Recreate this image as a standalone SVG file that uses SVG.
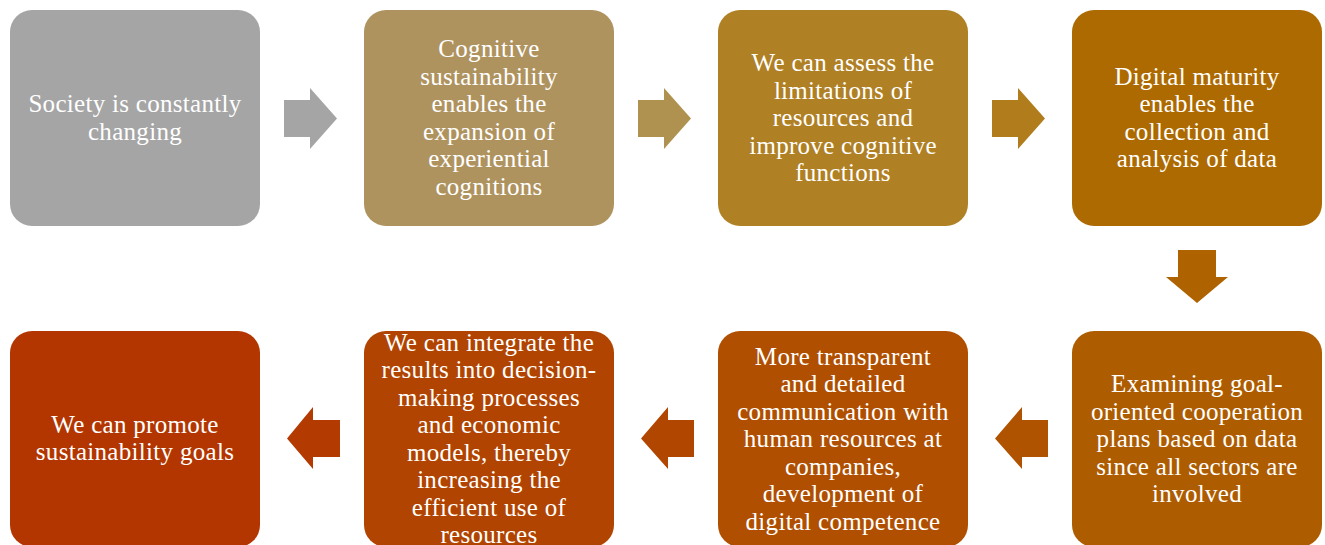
<svg xmlns="http://www.w3.org/2000/svg" width="1325" height="545" viewBox="0 0 1325 545">
<style>
.box{stroke:none}
.t{font-family:"Liberation Serif","Times New Roman",serif;font-size:25px;letter-spacing:0.3px;fill:#ffffff;text-anchor:middle}
</style>
<rect width="1325" height="545" fill="#ffffff"/>
<g id="connectors">
<polygon points="284,100 310,100 310,88 337,118.5 310,149 310,137 284,137" fill="#a5a5a5"/>
<polygon points="638,100 664,100 664,88 691,118.5 664,149 664,137 638,137" fill="#af924f"/>
<polygon points="992,100 1018,100 1018,88 1045,118.5 1018,149 1018,137 992,137" fill="#b07c1c"/>
<polygon points="1178,250 1216,250 1216,277 1228,277 1197,303 1166,277 1178,277" fill="#ae6300"/>
<polygon points="1048,420 1022,420 1022,407 995,438.5 1022,469 1022,457 1048,457" fill="#b05300"/>
<polygon points="694,420 668,420 668,407 641,438.5 668,469 668,457 694,457" fill="#b14600"/>
<polygon points="340,420 313,420 313,407 287,438.5 313,469 313,457 340,457" fill="#b33a00"/>
</g>
<g id="n1">
<rect class="box" x="10" y="10" width="250" height="216" rx="22" fill="#a5a5a5"/>
<text class="t" x="135" y="112">Society is constantly</text>
<text class="t" x="135" y="139.5">changing</text>
</g>
<g id="n2">
<rect class="box" x="364" y="10" width="250" height="216" rx="22" fill="#af935f"/>
<text class="t" x="489" y="57.25">Cognitive</text>
<text class="t" x="489" y="84.75">sustainability</text>
<text class="t" x="489" y="112.25">enables the</text>
<text class="t" x="489" y="139.75">expansion of</text>
<text class="t" x="489" y="167.25">experiential</text>
<text class="t" x="489" y="194.75">cognitions</text>
</g>
<g id="n3">
<rect class="box" x="718" y="10" width="250" height="216" rx="22" fill="#b08025"/>
<text class="t" x="843" y="71">We can assess the</text>
<text class="t" x="843" y="98.5">limitations of</text>
<text class="t" x="843" y="126">resources and</text>
<text class="t" x="843" y="153.5">improve cognitive</text>
<text class="t" x="843" y="181">functions</text>
</g>
<g id="n4">
<rect class="box" x="1072" y="10" width="250" height="216" rx="22" fill="#ad6a00"/>
<text class="t" x="1197" y="84.75">Digital maturity</text>
<text class="t" x="1197" y="112.25">enables the</text>
<text class="t" x="1197" y="139.75">collection and</text>
<text class="t" x="1197" y="167.25">analysis of data</text>
</g>
<g id="n5">
<rect class="box" x="1072" y="331" width="250" height="216" rx="22" fill="#ae5c00"/>
<text class="t" x="1197" y="392">Examining goal-</text>
<text class="t" x="1197" y="419.5">oriented cooperation</text>
<text class="t" x="1197" y="447">plans based on data</text>
<text class="t" x="1197" y="474.5">since all sectors are</text>
<text class="t" x="1197" y="502">involved</text>
</g>
<g id="n6">
<rect class="box" x="718" y="331" width="250" height="216" rx="22" fill="#b04f00"/>
<text class="t" x="843" y="364.5">More transparent</text>
<text class="t" x="843" y="392">and detailed</text>
<text class="t" x="843" y="419.5">communication with</text>
<text class="t" x="843" y="447">human resources at</text>
<text class="t" x="843" y="474.5">companies,</text>
<text class="t" x="843" y="502">development of</text>
<text class="t" x="843" y="529.5">digital competence</text>
</g>
<g id="n7">
<rect class="box" x="364" y="331" width="250" height="216" rx="22" fill="#b14400"/>
<text class="t" x="489" y="350.75">We can integrate the</text>
<text class="t" x="489" y="378.25">results into decision-</text>
<text class="t" x="489" y="405.75">making processes</text>
<text class="t" x="489" y="433.25">and economic</text>
<text class="t" x="489" y="460.75">models, thereby</text>
<text class="t" x="489" y="488.25">increasing the</text>
<text class="t" x="489" y="515.75">efficient use of</text>
<text class="t" x="489" y="543.25">resources</text>
</g>
<g id="n8">
<rect class="box" x="10" y="331" width="250" height="216" rx="22" fill="#b33600"/>
<text class="t" x="135" y="432.75">We can promote</text>
<text class="t" x="135" y="460.25">sustainability goals</text>
</g>
</svg>
